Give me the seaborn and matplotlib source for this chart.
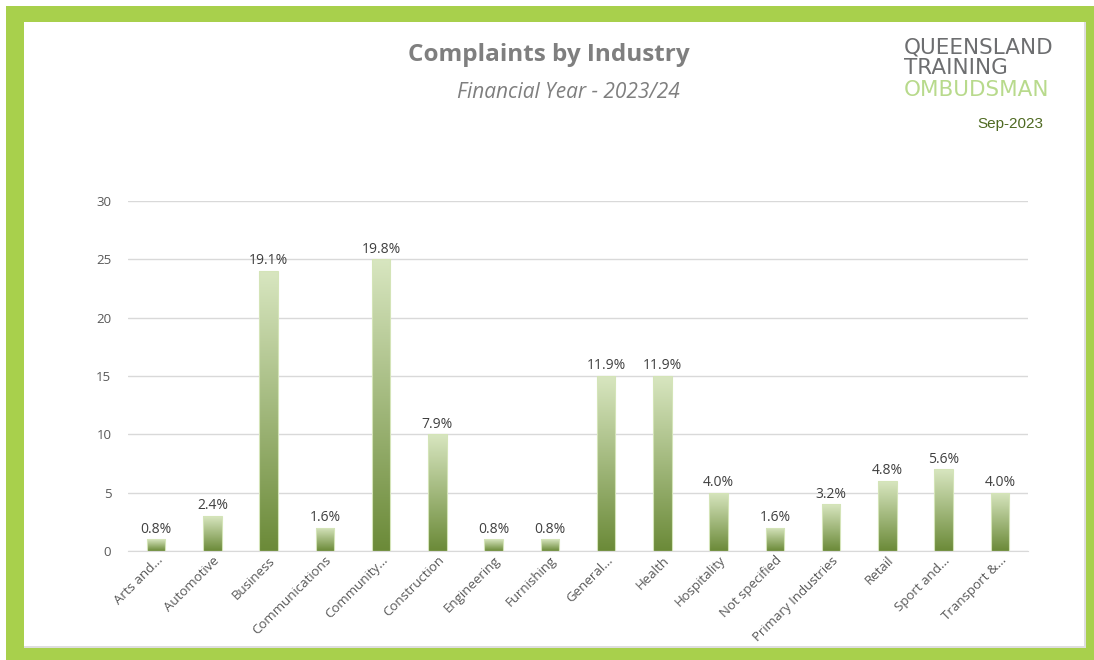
import numpy as np
import pandas as pd
import seaborn as sns
import matplotlib.pyplot as plt
from matplotlib.colors import LinearSegmentedColormap
from matplotlib.patches import Rectangle

industries = ['Arts and...', 'Automotive', 'Business', 'Communications', 'Community...',
              'Construction', 'Engineering', 'Furnishing', 'General...', 'Health',
              'Hospitality', 'Not specified', 'Primary Industries', 'Retail',
              'Sport and...', 'Transport &...']
complaints = [1, 3, 24, 2, 25, 10, 1, 1, 15, 15, 5, 2, 4, 6, 7, 5]
pct_labels = ['0.8%', '2.4%', '19.1%', '1.6%', '19.8%', '7.9%', '0.8%', '0.8%',
              '11.9%', '11.9%', '4.0%', '1.6%', '3.2%', '4.8%', '5.6%', '4.0%']

df = pd.DataFrame({'Industry': industries, 'Complaints': complaints})

sns.set_style('white')
plt.rcParams['font.family'] = ['Open Sans', 'DejaVu Sans']

W, H = 1094, 660
fig = plt.figure(figsize=(W / 100, H / 100), dpi=100)


def px_rect(x0, y0, x1, y1, **kw):
    # rectangle given in pixel coords from the top-left corner
    return Rectangle((x0 / W, 1 - y1 / H), (x1 - x0) / W, (y1 - y0) / H,
                     transform=fig.transFigure, **kw)


# green frame, white card with a faint grey shadow
fig.patches.append(px_rect(6, 6, W, H, facecolor='#a8d04c', edgecolor='none', zorder=-6))
fig.patches.append(px_rect(24, 22, 1086, 648, facecolor='#dedede', edgecolor='none', zorder=-5))
fig.patches.append(px_rect(24, 22, 1084, 646, facecolor='white', edgecolor='none', zorder=-4))

ax = fig.add_axes([128 / W, 1 - 551 / H, 900 / W, 350 / H])
ax.patch.set_alpha(0)
sns.barplot(data=df, x='Industry', y='Complaints', ax=ax, width=0.33, color='#8aa65a')

# swap the flat fill for a vertical gradient on each bar
cmap = LinearSegmentedColormap.from_list('grn', ['#6b8a38', '#d8e6c0'])
grad = np.linspace(0, 1, 256).reshape(-1, 1)
for p in ax.patches:
    x0, w, h = p.get_x(), p.get_width(), p.get_height()
    p.set_facecolor('none')
    p.set_edgecolor('#d4e4b8')
    p.set_linewidth(0.8)
    p.set_zorder(3)
    im = ax.imshow(grad, extent=[x0, x0 + w, 0, h], origin='lower', cmap=cmap,
                   aspect='auto', zorder=2)
    im.set_clip_path(p)

ax.set_xlim(-0.5, len(industries) - 0.5)
ax.set_ylim(0, 30)
ax.set_yticks(range(0, 31, 5))
ax.yaxis.grid(True, color='#d9d9d9', linewidth=1)
ax.set_axisbelow(True)
for s in ['top', 'right', 'left']:
    ax.spines[s].set_visible(False)
ax.spines['bottom'].set_color('#d9d9d9')
ax.tick_params(axis='both', length=0, colors='#595959', labelsize=9.5)
ax.tick_params(axis='y', pad=12)
ax.tick_params(axis='x', pad=2)
ax.set_xlabel('')
ax.set_ylabel('')
plt.setp(ax.get_xticklabels(), rotation=45, ha='right', rotation_mode='anchor')

for i, (v, lab) in enumerate(zip(complaints, pct_labels)):
    ax.annotate(lab, (i, v), xytext=(0, 2), textcoords='offset points',
                ha='center', va='bottom', fontsize=10, color='#404040')

fig.text(549 / W, 1 - 55 / H, 'Complaints by Industry', ha='center', va='center',
         fontsize=17.5, fontweight='bold', color='#7f7f7f')
fig.text(568 / W, 1 - 93 / H, 'Financial Year - 2023/24', ha='center', va='center',
         fontsize=15, style='italic', color='#7f7f7f')

# logo
logo_font = ['Liberation Sans Narrow', 'DejaVu Sans']
fig.text(904 / W, 1 - 47 / H, 'QUEENSLAND', ha='left', va='center', fontsize=15.5,
         color='#6d6e70', family=logo_font)
fig.text(904 / W, 1 - 68 / H, 'TRAINING', ha='left', va='center', fontsize=15.5,
         color='#6d6e70', family=logo_font)
fig.text(904 / W, 1 - 90 / H, 'OMBUDSMAN', ha='left', va='center', fontsize=15.5,
         color='#b8da8c', family=logo_font)
fig.text(1010 / W, 1 - 124 / H, 'Sep-2023', ha='center', va='center', fontsize=11,
         color='#4f6a22', family=['Liberation Sans', 'DejaVu Sans'])

fig.savefig('out.png', dpi=100)
